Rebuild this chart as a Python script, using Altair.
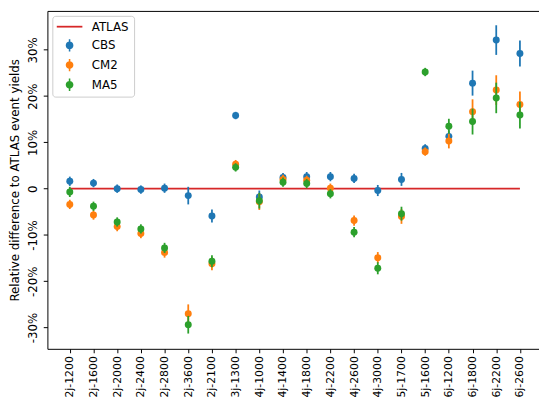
import altair as alt
import pandas as pd

categories = ["2j-1200", "2j-1600", "2j-2000", "2j-2400", "2j-2800", "2j-3600",
              "2j-2100", "3j-1300", "4j-1000", "4j-1400", "4j-1800", "4j-2200",
              "4j-2600", "4j-3000", "5j-1700", "5j-1600", "6j-1200", "6j-1800",
              "6j-2200", "6j-2600"]

atlas = [0.0, 0.0, 0.0, 0.0, 0.0, 0.0, 0.0, 0.0, 0.0, 0.0,
         0.0, 0.0, 0.0, 0.0, 0.0, 0.0, 0.0, 0.0, 0.0, 0.0]

cbs = [1.6, 1.2, 0.0, -0.2, 0.1, -1.5, -5.9, 15.8, -1.8, 2.4,
       2.6, 2.6, 2.2, -0.4, 2.0, 8.7, 11.3, 22.8, 32.1, 29.2]
cbs_err = [1.0, 0.9, 0.9, 0.9, 1.0, 1.9, 1.4, 0.8, 1.4, 1.0,
           1.0, 1.0, 1.0, 1.2, 1.4, 0.9, 1.3, 2.7, 3.2, 2.8]

cm2 = [-3.4, -5.7, -8.2, -9.7, -13.8, -27.0, -16.2, 5.3, -2.8, 2.0,
       1.8, 0.1, -6.9, -14.9, -6.0, 8.0, 10.3, 16.6, 21.3, 18.2]
cm2_err = [1.0, 1.0, 1.0, 1.0, 1.1, 2.0, 1.4, 0.9, 1.8, 1.0,
           1.0, 1.0, 1.1, 1.2, 1.6, 0.9, 1.6, 2.7, 3.2, 2.8]

ma5 = [-0.7, -3.8, -7.2, -8.7, -12.8, -29.4, -15.7, 4.6, -2.6, 1.4,
       1.1, -1.1, -9.4, -17.2, -5.4, 25.2, 13.5, 14.5, 19.6, 15.9]
ma5_err = [1.1, 1.0, 1.0, 1.0, 1.1, 1.9, 1.3, 0.9, 1.7, 1.0,
           1.0, 1.0, 1.1, 1.3, 1.5, 0.9, 1.6, 2.8, 3.3, 2.9]

y_ticks = [-30, -20, -10, 0, 10, 20, 30]
series_names = ["ATLAS", "CBS", "CM2", "MA5"]
series_colors = ["#d62728", "#1f77b4", "#ff7f0e", "#2ca02c"]

FONT = "DejaVu Sans"

# legend symbol paths (units of 6 px, centre shifted right)
dx = 1.083
r = 0.65
line_path = f"M{-1.083:.3f},-0.15H3.25V0.15H{-1.083:.3f}Z"
dot_path = (f"M{dx-0.13:.3f},-1.05H{dx+0.13:.3f}V1.05H{dx-0.13:.3f}Z "
            f"M{dx+r:.3f},0A{r},{r} 0 1,1 {dx-r:.3f},0A{r},{r} 0 1,1 {dx+r:.3f},0Z")
shape_range = [line_path, dot_path, dot_path, dot_path]

rows = []
for name, vals, errs in [("CBS", cbs, cbs_err), ("CM2", cm2, cm2_err), ("MA5", ma5, ma5_err)]:
    for c, v, e in zip(categories, vals, errs):
        rows.append({"cat": c, "series": name, "value": v, "lo": v - e, "hi": v + e})
df = pd.DataFrame(rows)
atlas_df = pd.DataFrame({"cat": categories, "series": "ATLAS", "value": atlas})

x_scale = alt.Scale(type="point", domain=categories, padding=0.875, align=0.54, round=False)
y_scale = alt.Scale(domain=[-34.6, 38.4], nice=False, zero=False)
color_scale = alt.Scale(domain=series_names, range=series_colors)

x_axis_bottom = alt.Axis(
    title=None, labelAngle=-90, tickSize=4, labelPadding=3,
    domainColor="black", tickColor="black", labelColor="black",
    labelFontSize=11, labelFont=FONT, grid=False, domainWidth=1, tickWidth=1,
    labelOverlap=False,
)
x_axis_top = alt.Axis(
    orient="top", labels=False, ticks=False, domain=True, grid=False,
    domainColor="black", domainWidth=1, title=None,
)
y_axis = alt.Axis(
    title="Relative difference to ATLAS event yields", values=y_ticks,
    labelExpr="datum.value == 0 ? '0' : datum.value + '%'",
    labelAngle=-90, tickSize=4.2, labelPadding=4.2, grid=False,
    domainColor="black", tickColor="black", labelColor="black",
    labelFontSize=12, labelFont=FONT, domainWidth=1, tickWidth=1,
    titleFont=FONT, titleFontSize=12, titleFontWeight="normal",
    titleColor="black", titlePadding=5,
)

line = alt.Chart(atlas_df).mark_line(strokeWidth=1.8).encode(
    x=alt.X("cat:N", scale=x_scale, sort=categories, axis=x_axis_top),
    y=alt.Y("value:Q", scale=y_scale, axis=None),
    color=alt.Color("series:N", scale=color_scale, legend=None),
)

layers = [line]
first = True
for name in ["CBS", "CM2", "MA5"]:
    sub = df[df["series"] == name]
    bars = alt.Chart(sub).mark_rule(strokeWidth=1.8).encode(
        x=alt.X("cat:N", scale=x_scale, sort=categories,
                axis=x_axis_bottom if first else None),
        y=alt.Y("lo:Q", scale=y_scale, axis=y_axis if first else None),
        y2="hi:Q",
        color=alt.Color("series:N", scale=color_scale, legend=None),
    )
    pts = alt.Chart(sub).mark_circle(size=50, opacity=1).encode(
        x=alt.X("cat:N", scale=x_scale, sort=categories, axis=None),
        y=alt.Y("value:Q", scale=y_scale, axis=None),
        color=alt.Color("series:N", scale=color_scale, legend=None),
    )
    layers += [bars, pts]
    first = False

legend_kw = dict(orient="top-left", offset=5, padding=5, rowPadding=6,
                 labelOffset=23, symbolSize=144, symbolStrokeWidth=0,
                 strokeColor="#cccccc", fillColor="rgba(255,255,255,0.8)",
                 cornerRadius=3, labelFontSize=12, labelFont=FONT,
                 labelColor="black", symbolOpacity=1)

carrier = alt.Chart(df).transform_filter("false").mark_point(filled=True, opacity=1).encode(
    x=alt.X("cat:N", scale=x_scale, sort=categories, axis=None),
    y=alt.Y("value:Q", scale=y_scale, axis=None),
    color=alt.Color("series:N", scale=color_scale, title=None, legend=alt.Legend(**legend_kw)),
    shape=alt.Shape("series:N", scale=alt.Scale(domain=series_names, range=shape_range),
                    title=None, legend=alt.Legend(**legend_kw)),
)
layers.append(carrier)

chart = alt.layer(*layers).resolve_axis(
    x="independent", y="independent"
).resolve_legend(color="independent", shape="independent").properties(
    width=499, height=343,
    autosize=alt.AutoSizeParams(type="none"),
    padding={"left": 40, "top": 0, "right": 0, "bottom": 50},
    background="white",
).configure_view(stroke=None)

chart.save("out.html", embed_options={"renderer": "svg", "actions": False})
